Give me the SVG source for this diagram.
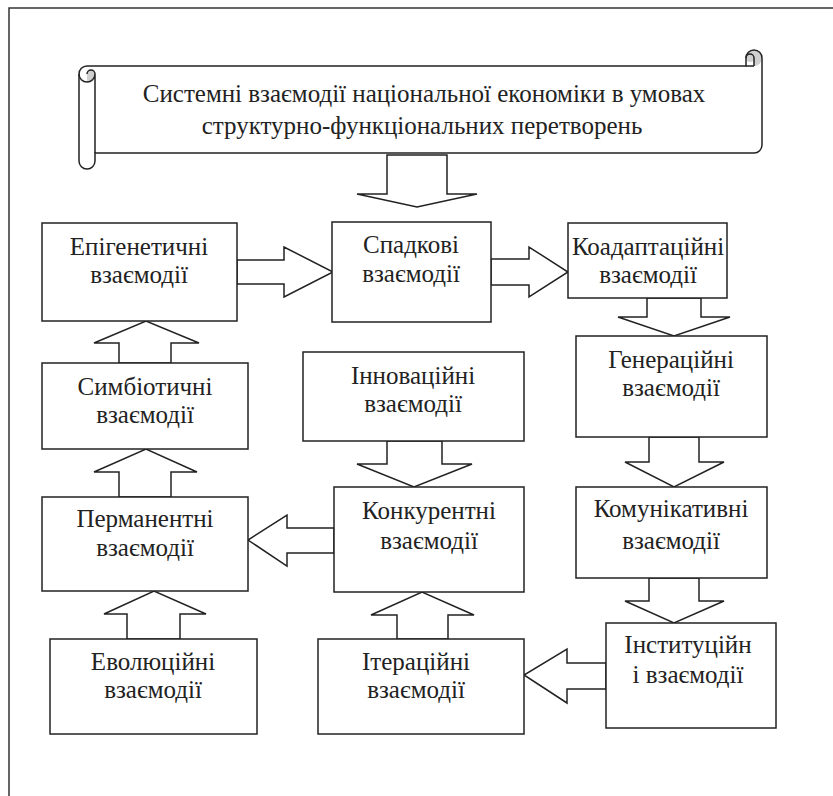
<svg xmlns="http://www.w3.org/2000/svg" width="833" height="796" viewBox="0 0 833 796">
<style>
.frame{fill:none;stroke:#333;stroke-width:1.5}
.box{fill:#fff;stroke:#222;stroke-width:1.5}
.arr{fill:#fff;stroke:#222;stroke-width:1.5;stroke-linejoin:miter}
.sc{fill:none;stroke:#222;stroke-width:1.5}
.dk{fill:#d0d0d0;stroke:none}
.t{font-family:'Liberation Serif','Times New Roman',serif;font-size:25px;fill:#222;text-anchor:middle}
</style>
<rect width="833" height="796" fill="#fff"/>
<path class="frame" d="M9,796 V8 H833"/>
<g id="title">
<path fill="#fff" stroke="none" d="M79,74 A8,8 0 0 1 87,66 H746 V58 A8,8 0 0 1 762,58 V145 A8,8 0 0 1 754,153 H95 V161 A8,8 0 0 1 79,161 Z"/>
<path class="dk" d="M87,82 A8,8 0 0 0 95,74 A4,4 0 0 0 87,74 Z"/>
<path class="dk" d="M754,66 A8,8 0 1 0 746,58 A4,4 0 0 0 754,58 Z"/>
<path class="sc" d="M79,74 A8,8 0 0 1 87,66 H746 V58 A8,8 0 0 1 762,58 V145 A8,8 0 0 1 754,153 H95 V161 A8,8 0 0 1 79,161 Z"/>
<path class="sc" d="M754,66 V58 A4,4 0 0 0 746,58 M754,66 H746 M87,74 A4,4 0 0 1 95,74 V153 M87,82 A8,8 0 0 0 95,74 M79,74 A8,8 0 0 0 87,82"/>
<text class="t" x="424" y="102">Системні взаємодії національної економіки в умовах</text>
<text class="t" x="422" y="134">структурно-функціональних перетворень</text>
</g>
<g id="connectors">
<polygon class="arr" points="387,155 447,155 447,194 477,194 417,207 357,194 387,194"/>
<polygon class="arr" points="237,260 284,260 284,247 333,272 284,297 284,284 237,284"/>
<polygon class="arr" points="491,259 529,259 529,247 568,272 529,297 529,285 491,285"/>
<polygon class="arr" points="647,298 701,298 701,317 730,317 674,336 618,317 647,317"/>
<polygon class="arr" points="649,437 699,437 699,462 724,462 674,487 625,462 649,462"/>
<polygon class="arr" points="649,578 699,578 699,601 724,601 674,623 625,601 649,601"/>
<polygon class="arr" points="606,663 567,663 567,649 524,675 567,703 567,689 606,689"/>
<polygon class="arr" points="387,441 442,441 442,464 472,464 414,487 357,464 387,464"/>
<polygon class="arr" points="397,639 448,639 448,615 474,615 422,592 371,615 397,615"/>
<polygon class="arr" points="334,528 287,528 287,515 248,540 287,566 287,553 334,553"/>
<polygon class="arr" points="119,497 171,497 171,472 197,472 146,449 94,472 119,472"/>
<polygon class="arr" points="119,363 171,363 171,343 199,343 146,321 94,343 119,343"/>
<polygon class="arr" points="127,639 180,639 180,614 206,614 154,591 104,614 127,614"/>
</g>
<g id="epigenetic"><rect class="box" x="42" y="223" width="195" height="98"/><text class="t" x="139" y="255">Епігенетичні</text><text class="t" x="139" y="283">взаємодії</text></g>
<g id="hereditary"><rect class="box" x="332" y="222" width="159" height="100"/><text class="t" x="411" y="253">Спадкові</text><text class="t" x="411" y="282">взаємодії</text></g>
<g id="coadaptive"><rect class="box" x="568" y="223" width="159" height="75"/><text class="t" x="648" y="255">Коадаптаційні</text><text class="t" x="648" y="283">взаємодії</text></g>
<g id="generational"><rect class="box" x="576" y="336" width="191" height="101"/><text class="t" x="671" y="368">Генераційні</text><text class="t" x="671" y="396">взаємодії</text></g>
<g id="symbiotic"><rect class="box" x="42" y="363" width="206" height="86"/><text class="t" x="145" y="395">Симбіотичні</text><text class="t" x="145" y="423">взаємодії</text></g>
<g id="innovative"><rect class="box" x="303" y="352" width="221" height="89"/><text class="t" x="413" y="384">Інноваційні</text><text class="t" x="413" y="412">взаємодії</text></g>
<g id="competitive"><rect class="box" x="334" y="487" width="190" height="105"/><text class="t" x="429" y="519">Конкурентні</text><text class="t" x="429" y="549">взаємодії</text></g>
<g id="communicative"><rect class="box" x="576" y="487" width="191" height="91"/><text class="t" x="671" y="517">Комунікативні</text><text class="t" x="671" y="549">взаємодії</text></g>
<g id="permanent"><rect class="box" x="42" y="497" width="206" height="94"/><text class="t" x="145" y="527">Перманентні</text><text class="t" x="145" y="556">взаємодії</text></g>
<g id="institutional"><rect class="box" x="606" y="623" width="170" height="105"/><text class="t" x="688" y="653">Інституційн</text><text class="t" x="688" y="683">і взаємодії</text></g>
<g id="evolutionary"><rect class="box" x="50" y="639" width="207" height="95"/><text class="t" x="153" y="670">Еволюційні</text><text class="t" x="153" y="698">взаємодії</text></g>
<g id="iterative"><rect class="box" x="318" y="639" width="206" height="95"/><text class="t" x="416" y="670">Ітераційні</text><text class="t" x="416" y="698">взаємодії</text></g>
</svg>
